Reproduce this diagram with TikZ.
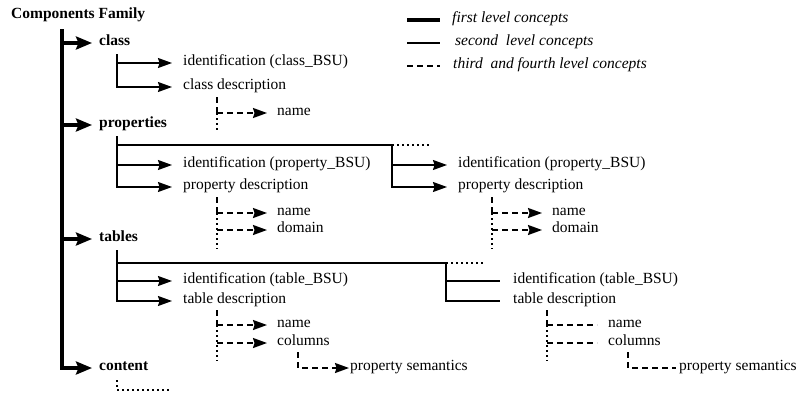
\documentclass[tikz,border=0pt]{standalone}
\usepackage{fontspec}
\setmainfont{Liberation Serif}
\usetikzlibrary{arrows.meta}
\begin{document}
\begin{tikzpicture}[x=1pt,y=-1pt,
  every node/.style={font=\fontsize{15.5}{18}\selectfont},
  lbl/.style={anchor=mid west, inner xsep=11pt, inner ysep=0pt},
  toplbl/.style={anchor=mid west, inner xsep=7pt, inner ysep=0pt, font=\fontsize{15.5}{18}\selectfont\bfseries},
  leglbl/.style={anchor=mid west, inner ysep=0pt, font=\fontsize{15.5}{18}\selectfont\itshape},
  firstln/.style={line width=3.3pt},
  firsta/.style={firstln, -{Stealth[length=16pt,width=13pt,inset=2.5pt]}},
  secln/.style={line width=1.3pt},
  seca/.style={secln, -{Stealth[length=14pt,width=10pt,inset=1.5pt]}},
  thrln/.style={line width=1.7pt, dash pattern=on 6pt off 4pt},
  thra/.style={thrln, -{Stealth[length=14pt,width=10pt,inset=1.5pt]}},
  dotln/.style={line width=1.5pt, dash pattern=on 1.5pt off 3.5pt},
]
\useasboundingbox (0,0) rectangle (800,394);

% title and first level
\node[anchor=base west, inner sep=0pt, font=\fontsize{15.5}{18}\selectfont\bfseries] (title) at (11,18) {Components Family};
\node[toplbl] (class) at (92,43) {class};
\node[toplbl] (props) at (92,125) {properties};
\node[toplbl] (tables) at (92,239) {tables};
\node[toplbl] (content) at (92,368) {content};

\draw[firsta] (62,29) |- (content.mid west);
\draw[firsta] (62,43) -- (class.mid west);
\draw[firsta] (62,125) -- (props.mid west);
\draw[firsta] (62,239) -- (tables.mid west);

% legend
\node[leglbl, inner xsep=12pt] (leg1) at (440,20) {first level concepts};
\node[leglbl, inner xsep=15pt] (leg2) at (440,43) {second\ \ level concepts};
\node[leglbl, inner xsep=13pt] (leg3) at (440,66) {third\ \ and fourth level concepts};
\coordinate (lg1) at (407,20);
\coordinate (lg2) at (407,43);
\coordinate (lg3) at (407,66);
\draw[firstln] (lg1) -- (leg1.mid west);
\draw[secln] (lg2) -- (leg2.mid west);
\draw[thrln] (lg3) -- (leg3.mid west);

% class subtree
\node[lbl] (idc) at (172,63) {identification (class\_BSU)};
\node[lbl] (cdesc) at (172,87) {class description};
\node[lbl, inner xsep=10pt] (cname) at (267,113) {name};
\coordinate (cj) at (117,54);
\draw[seca] (cj) |- (idc.mid west);
\draw[seca] (cj) |- (cdesc.mid west);
\coordinate (cd0) at (217,97);
\coordinate (cd1) at (217,113);
\coordinate (cd2) at (217,131);
\draw[thrln] (cd0) -- (cd1);
\draw[dotln] (cd1) -- (cd2);
\draw[thra] (cd1) -- (cname.mid west);

% properties subtree
\node[lbl] (idp1) at (172,165) {identification (property\_BSU)};
\node[lbl] (pdesc1) at (172,187) {property description};
\node[lbl, inner xsep=10pt] (pname1) at (267,213) {name};
\node[lbl, inner xsep=10pt] (pdom1) at (267,230) {domain};
\node[lbl] (idp2) at (447,165) {identification (property\_BSU)};
\node[lbl] (pdesc2) at (447,187) {property description};
\node[lbl, inner xsep=10pt] (pname2) at (542,213) {name};
\node[lbl, inner xsep=10pt] (pdom2) at (542,230) {domain};
\coordinate (pj) at (117,136);
\coordinate (pj2) at (392,145);
\coordinate (pjd) at (430,145);
\draw[secln] (pj) |- (pj2);
\draw[seca] (pj) |- (idp1.mid west);
\draw[seca] (pj) |- (pdesc1.mid west);
\draw[seca] (pj2) |- (idp2.mid west);
\draw[seca] (pj2) |- (pdesc2.mid west);
\draw[dotln] (pj2) -- (pjd);
% left third level
\coordinate (pa0) at (217,197);
\coordinate (pa1) at (217,213);
\coordinate (pa2) at (217,230);
\coordinate (pa3) at (217,249);
\draw[thrln] (pa0) -- (pa1);
\draw[dotln] (pa1) -- (pa3);
\draw[thra] (pa1) -- (pname1.mid west);
\draw[thra] (pa2) -- (pdom1.mid west);
% right third level
\coordinate (pb0) at (492,197);
\coordinate (pb1) at (492,213);
\coordinate (pb2) at (492,230);
\coordinate (pb3) at (492,249);
\draw[thrln] (pb0) -- (pb1);
\draw[dotln] (pb1) -- (pb3);
\draw[thra] (pb1) -- (pname2.mid west);
\draw[thra] (pb2) -- (pdom2.mid west);

% tables subtree
\node[lbl] (idt1) at (172,281) {identification (table\_BSU)};
\node[lbl] (tdesc1) at (172,301) {table description};
\node[lbl, inner xsep=10pt] (tname1) at (267,325) {name};
\node[lbl, inner xsep=10pt] (tcol1) at (267,343) {columns};
\node[lbl, inner xsep=1pt] (psem1) at (349,368) {property semantics};
\node[lbl, inner xsep=13pt] (idt2) at (500,281) {identification (table\_BSU)};
\node[lbl, inner xsep=13pt] (tdesc2) at (500,301) {table description};
\node[lbl, inner xsep=11pt] (tname2) at (597,325) {name};
\node[lbl, inner xsep=11pt] (tcol2) at (597,343) {columns};
\node[lbl, inner xsep=3pt] (psem2) at (676,368) {property semantics};
\coordinate (tj) at (117,250);
\coordinate (tj2) at (446,263);
\coordinate (tjd) at (485,263);
\draw[secln] (tj) |- (tj2);
\draw[seca] (tj) |- (idt1.mid west);
\draw[seca] (tj) |- (tdesc1.mid west);
\draw[secln] (tj2) |- (idt2.mid west);
\draw[secln] (tj2) |- (tdesc2.mid west);
\draw[dotln] (tj2) -- (tjd);
% left third level
\coordinate (ta0) at (217,310);
\coordinate (ta1) at (217,325);
\coordinate (ta2) at (217,343);
\coordinate (ta3) at (217,361);
\draw[thrln] (ta0) -- (ta1);
\draw[dotln] (ta1) -- (ta3);
\draw[thra] (ta1) -- (tname1.mid west);
\draw[thra] (ta2) -- (tcol1.mid west);
\coordinate (tc1) at (298,352);
\draw[thra] (tc1) |- (psem1.mid west);
% right third level
\coordinate (tb0) at (547,310);
\coordinate (tb1) at (547,325);
\coordinate (tb2) at (547,343);
\coordinate (tb3) at (547,361);
\draw[thrln] (tb0) -- (tb1);
\draw[dotln] (tb1) -- (tb3);
\draw[thrln] (tb1) -- (tname2.mid west);
\draw[thrln] (tb2) -- (tcol2.mid west);
\coordinate (tc2) at (628,352);
\draw[thrln] (tc2) |- (psem2.mid west);

% content
\coordinate (ct0) at (117,380);
\coordinate (ct1) at (171,390);
\draw[dotln] (ct0) |- (ct1);
\end{tikzpicture}
\end{document}
